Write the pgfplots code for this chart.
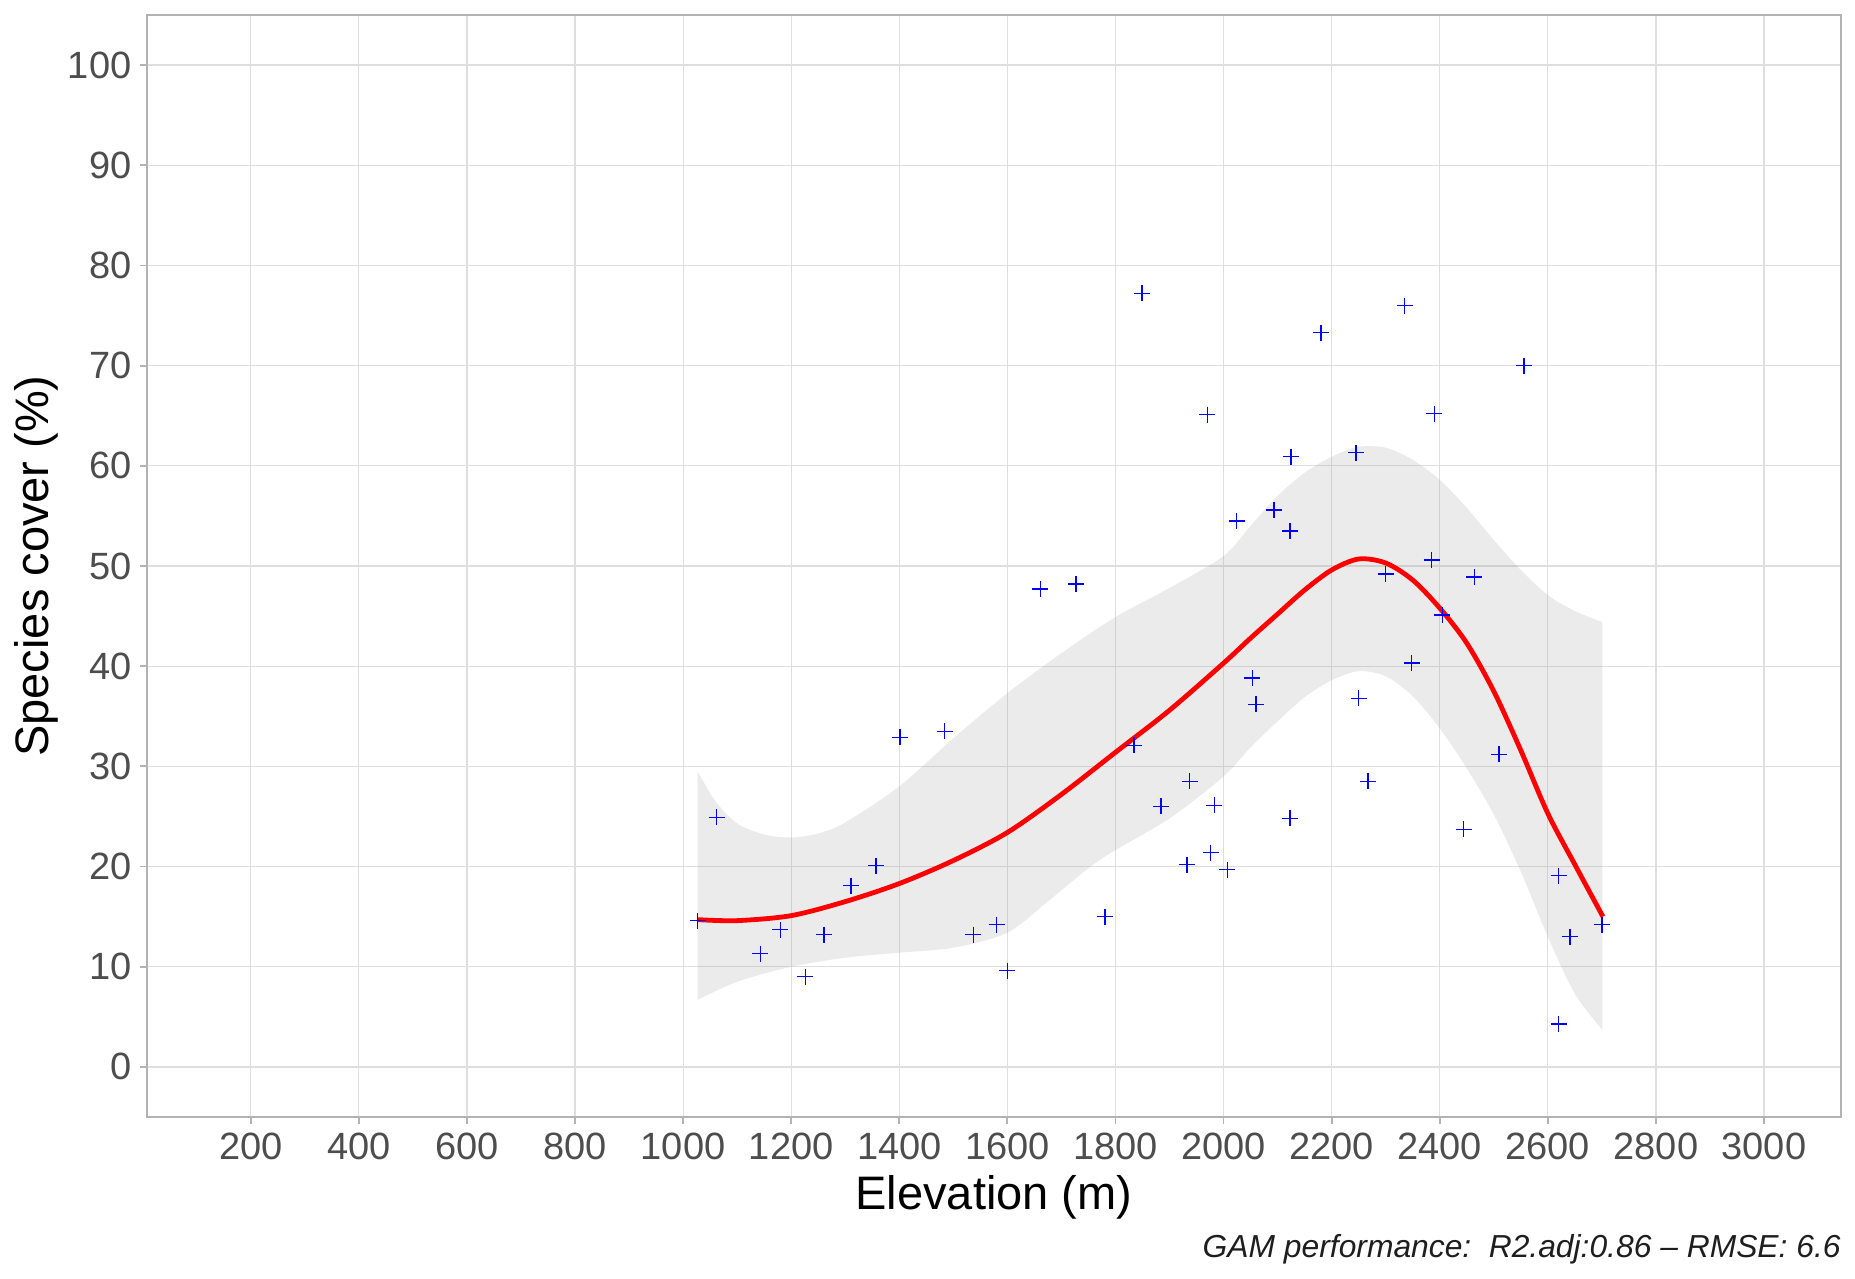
\documentclass[border=0pt]{standalone}
\usepackage{pgfplots}
\pgfplotsset{compat=1.18}
\usepgfplotslibrary{fillbetween}
\usepackage{fontspec}
\setmainfont{Liberation Sans}
\definecolor{gridc}{RGB}{222,222,222}
\definecolor{borderc}{RGB}{179,179,179}
\definecolor{tickc}{RGB}{77,77,77}
\definecolor{bandc}{RGB}{153,153,153}
\definecolor{capc}{RGB}{30,30,30}
\begin{document}
\begin{tikzpicture}
\path (-73.35pt,-80.5pt) (854.15pt,558.5pt);
\begin{axis}[
  at={(0pt,0pt)}, anchor=south west, scale only axis,
  width=847.15pt, height=551pt,
  xmin=7.5, xmax=3142.5, ymin=-5, ymax=105,
  xtick={200,400,...,3000}, ytick={0,10,...,100},
  grid=major, major grid style={gridc, line width=0.6pt},
  axis line style={borderc, line width=0.9pt},
  tick style={borderc, line width=0.9pt},
  tick align=outside, major tick length=3.5pt,
  xtick pos=bottom, ytick pos=left,
  /pgf/number format/assume math mode=true,
  /pgf/number format/set thousands separator={},
  ticklabel style={font=\fontsize{19pt}{22pt}\selectfont, text=tickc},
  xticklabel style={anchor=base, yshift=-18pt, inner sep=0pt},
  yticklabel style={anchor=east, xshift=-4pt, inner sep=0pt},
]
\addplot[name path=up, draw=none, smooth] coordinates {
(1027,29.5) (1060,26.5) (1100,24.3) (1150,23.2) (1200,22.9) (1250,23.3)
(1300,24.4) (1400,28.0) (1500,32.8) (1600,37.3) (1700,41.3) (1800,44.9)
(1900,47.8) (2000,51.0) (2050,54.0) (2100,57.0) (2150,59.3) (2200,60.9)
(2250,61.9) (2300,61.8) (2350,60.6) (2400,58.6) (2450,55.8) (2500,52.6)
(2550,49.6) (2600,47.1) (2650,45.5) (2701,44.4)};
\addplot[name path=lo, draw=none, smooth] coordinates {
(1027,6.7) (1100,8.5) (1200,10.0) (1300,10.9) (1400,11.4) (1500,11.9)
(1600,13.4) (1679,16.7) (1772,20.7) (1900,24.8) (2000,29.0) (2050,31.9)
(2100,34.5) (2150,36.9) (2200,38.6) (2250,39.5) (2300,39.0) (2350,37.0)
(2400,33.8) (2450,29.8) (2500,25.2) (2550,19.5) (2600,13.0) (2650,7.3)
(2701,3.7)};
\addplot[fill=bandc, fill opacity=0.2, draw=none] fill between[of=up and lo];
\addplot[red, line width=2.4pt, smooth] coordinates {
(1027,14.7) (1100,14.6) (1200,15.1) (1300,16.5) (1400,18.3) (1500,20.6)
(1600,23.4) (1700,27.2) (1800,31.4) (1900,35.6) (2000,40.3) (2050,42.8)
(2100,45.2) (2150,47.6) (2200,49.6) (2250,50.7) (2300,50.3) (2350,48.6)
(2400,45.8) (2450,42.3) (2500,37.5) (2550,31.6) (2600,25.3) (2650,20.2)
(2702,15.0)};
\addplot[only marks, mark=+, blue, mark size=4pt, mark options={line width=0.7pt}] coordinates {
(1027,14.6) (1062,24.9) (1143,11.3) (1180,13.7) (1226,9.0) (1261,13.2)
(1311,18.1) (1357,20.1) (1401,32.9) (1484,33.5) (1537,13.2) (1580,14.2)
(1600,9.6) (1661,47.7) (1727,48.2) (1781,15.0) (1834,32.1) (1849,77.2)
(1884,26.0) (1932,20.2) (1937,28.5) (1970,65.1) (1976,21.4) (1983,26.1)
(2007,19.7) (2024,54.5) (2053,38.8) (2060,36.2) (2093,55.6) (2123,24.8)
(2123,53.5) (2125,60.9) (2180,73.3) (2245,61.3) (2250,36.8) (2267,28.5)
(2300,49.2) (2335,76.0) (2348,40.3) (2385,50.6) (2390,65.2) (2405,45.1)
(2444,23.7) (2464,48.9) (2510,31.2) (2556,70.0) (2620,19.1) (2620,4.3)
(2641,13.0) (2700,14.2)};
\end{axis}
\node[anchor=base, inner sep=0pt, font=\fontsize{23.5pt}{28pt}\selectfont] at (423.6pt,-46.15pt) {Elevation (m)};
\node[anchor=base, rotate=90, inner sep=0pt, font=\fontsize{23.5pt}{28pt}\selectfont] at (-49pt,275.5pt) {Species cover (\%)};
\node[anchor=base east, inner sep=0pt, text=capc, font=\itshape\fontsize{15.9pt}{19pt}\selectfont] at (847.15pt,-70.15pt) {GAM performance:\hspace{0.55em}R2.adj:0.86 – RMSE: 6.6};
\end{tikzpicture}
\end{document}
